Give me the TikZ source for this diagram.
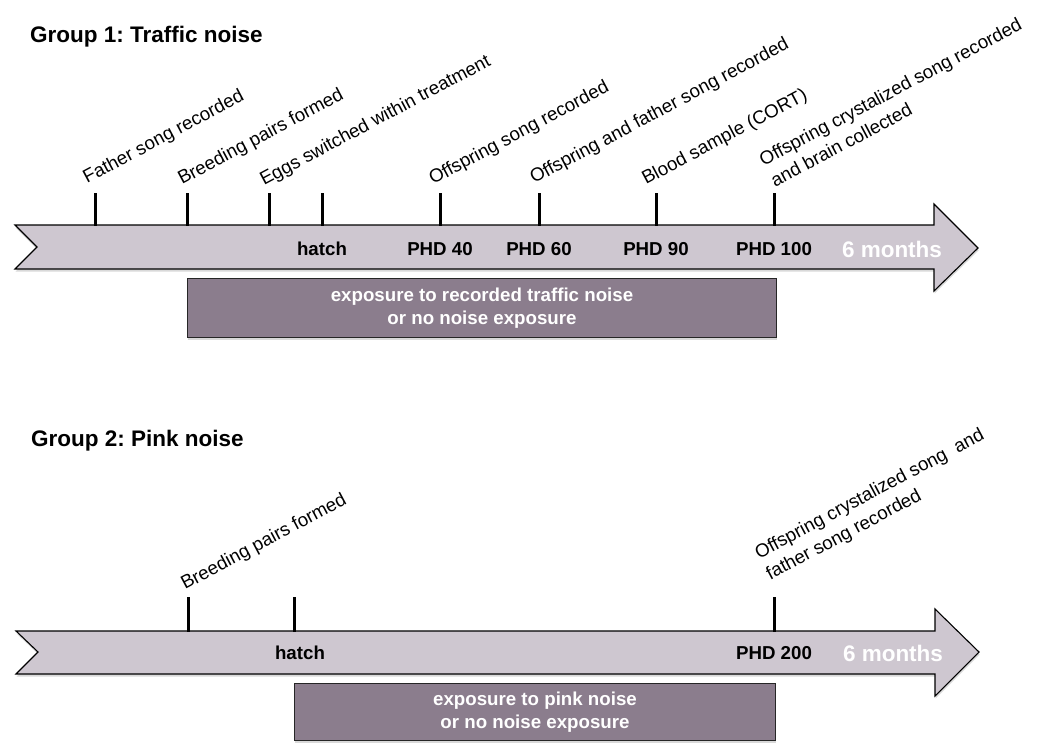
\documentclass[tikz,border=0pt]{standalone}
\usepackage{fontspec}
\setmainfont{Liberation Sans}
\usetikzlibrary{shadows}
\definecolor{arrowfill}{HTML}{CEC7D0}
\definecolor{boxfill}{HTML}{8B7D8D}
\frenchspacing
\begin{document}
\begin{tikzpicture}[x=1pt,y=-1pt,
  timeline/.style={draw=black, line width=1.1pt, line join=miter, fill=arrowfill,
    drop shadow={opacity=0.3, shadow xshift=0.5pt, shadow yshift=-2.5pt}},
  tickmark/.style={line width=3pt},
  evlabel/.style={rotate=28, anchor=base west, inner sep=0pt, font=\fontsize{18.7}{24}\selectfont},
  evlabeltwo/.style={rotate=28, anchor=south west, inner sep=0pt, align=left, font=\fontsize{18.7}{24}\selectfont},
  ptlabel/.style={inner sep=0pt, font=\bfseries\fontsize{18.7}{22}\selectfont},
  monthlabel/.style={inner sep=0pt, text=white, font=\bfseries\fontsize{22.5}{26}\selectfont},
  expbox/.style={draw=black!85, line width=1.2pt, fill=boxfill, text=white, align=center,
    inner sep=0pt, font=\bfseries\fontsize{18.7}{23}\selectfont,
    drop shadow={opacity=0.3, shadow xshift=0.5pt, shadow yshift=-2.5pt}},
  grouptitle/.style={anchor=base west, inner sep=0pt, font=\bfseries\fontsize{22.5}{26}\selectfont}
]
\useasboundingbox (0,0) rectangle (1051,742);

% ---------------- Group 1 ----------------
\node[grouptitle] (t1) at (30,42) {Group 1: Traffic noise};

\path[timeline] (15,225) -- (934,225) -- (934,204) -- (978,248) -- (934,291)
  -- (934,269) -- (15,269) -- (37,247) -- cycle;

\node[expbox, minimum width=589pt, minimum height=59pt] (box1) at (482,308)
  {exposure to recorded traffic noise\\or no noise exposure};

\foreach \n/\x in {a/95, b/187, c/269, d/322, e/440, f/539, g/656, h/774}{
  \coordinate (k1\n top) at (\x,193);
  \coordinate (k1\n bot) at (\x,226);
  \draw[tickmark] (k1\n top) -- (k1\n bot);
}

\node[evlabel] (l1a) at (87,184) {Father song recorded};
\node[evlabel] (l1b) at (182,185) {Breeding pairs formed};
\node[evlabel] (l1c) at (264,186) {Eggs switched within treatment};
\node[evlabel] (l1e) at (433,185) {Offspring song recorded};
\node[evlabel] (l1f) at (534,184) {Offspring and father song recorded};
\node[evlabel] (l1g) at (646,185) {Blood sample (CORT)};
\node[evlabeltwo] (l1h) at (775,188) {Offspring crystalized song recorded\\and brain collected};

\node[ptlabel] (p1d) at (322,249) {hatch};
\node[ptlabel] (p1e) at (440,249) {PHD 40};
\node[ptlabel] (p1f) at (539,249) {PHD 60};
\node[ptlabel] (p1g) at (656,249) {PHD 90};
\node[ptlabel] (p1h) at (774,249) {PHD 100};
\node[monthlabel] (m1) at (892,249) {6 months};

% ---------------- Group 2 ----------------
\node[grouptitle] (t2) at (31,446) {Group 2: Pink noise};

\path[timeline] (16,631) -- (935,631) -- (935,609) -- (979,652) -- (935,696)
  -- (935,674) -- (16,674) -- (38,652) -- cycle;

\node[expbox, minimum width=481pt, minimum height=57pt] (box2) at (535,712)
  {exposure to pink noise\\or no noise exposure};

\foreach \n/\x in {b/188, d/294, h/774}{
  \coordinate (k2\n top) at (\x,597);
  \coordinate (k2\n bot) at (\x,632);
  \draw[tickmark] (k2\n top) -- (k2\n bot);
}

\node[evlabel] (l2b) at (185,590) {Breeding pairs formed};
\node[evlabeltwo] (l2h) at (772,584) {Offspring crystalized song\ \ and\\father song recorded};

\node[ptlabel] (p2d) at (300,653) {hatch};
\node[ptlabel] (p2h) at (774,653) {PHD 200};
\node[monthlabel] (m2) at (893,653) {6 months};
\end{tikzpicture}
\end{document}
